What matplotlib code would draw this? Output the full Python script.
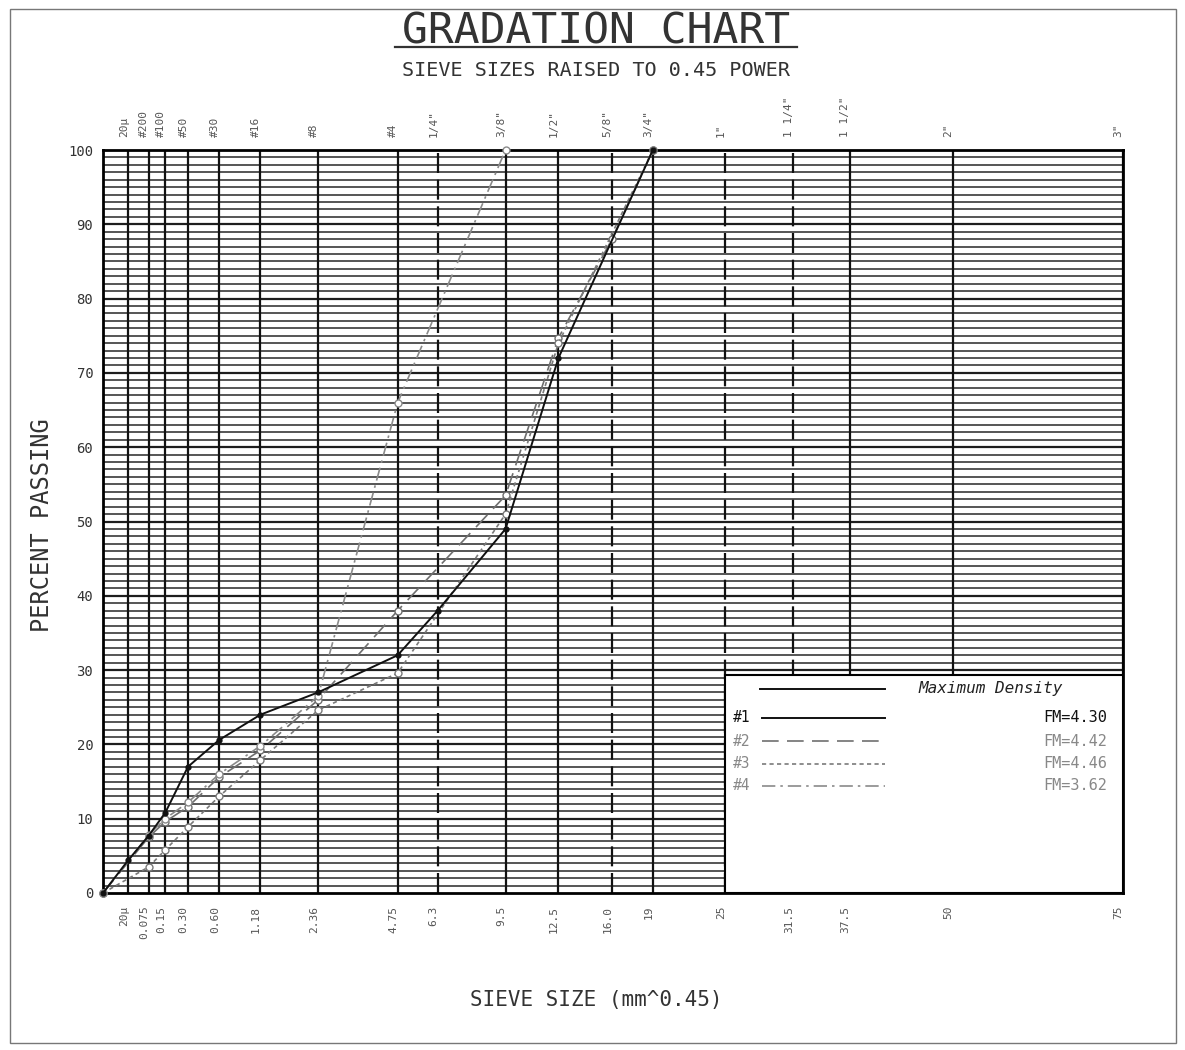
import numpy as np
import matplotlib.pyplot as plt
from matplotlib.lines import Line2D
from matplotlib.patches import Rectangle

plt.rcParams["font.family"] = ["DejaVu Sans Mono", "DejaVu Sans"]

POWER = 0.45
W, H = 1185, 1050

# ---------------------------------------------------------------------------
# sieve grid (openings in mm) and their labels
# ---------------------------------------------------------------------------
sieve_mm = [0.02, 0.075, 0.15, 0.30, 0.60, 1.18, 2.36, 4.75, 6.3, 9.5,
            12.5, 16.0, 19, 25, 31.5, 37.5, 50, 75]
bottom_labels = ["20\u00b5", "0.075", "0.15", "0.30", "0.60", "1.18", "2.36",
                 "4.75", "6.3", "9.5", "12.5", "16.0", "19", "25", "31.5",
                 "37.5", "50", "75"]
top_labels = ["20\u00b5", "#200", "#100", "#50", "#30", "#16", "#8", "#4",
              '1/4"', '3/8"', '1/2"', '5/8"', '3/4"', '1"', '1 1/4"',
              '1 1/2"', '2"', '3"']
dashed_sieves = [6.3, 16.0, 25, 31.5]

# ---------------------------------------------------------------------------
# gradations (percent passing)
# ---------------------------------------------------------------------------
size_1 = [0, 0.02, 0.075, 0.15, 0.30, 0.60, 1.18, 2.36, 4.75, 6.3, 9.5, 12.5, 19]
pass_1 = [0, 4.4, 7.7, 10.8, 17.0, 20.6, 24.0, 27.0, 32.0, 38.0, 49.0, 72.0, 100]

size_2 = [0, 0.075, 0.15, 0.30, 0.60, 1.18, 2.36, 4.75, 9.5, 12.5, 16.0, 19]
pass_2 = [0, 7.5, 9.6, 11.6, 15.6, 19.2, 26.0, 38.0, 53.5, 74.7, 88.0, 100]

size_3 = [0, 0.075, 0.15, 0.30, 0.60, 1.18, 2.36, 4.75, 9.5, 12.5, 19]
pass_3 = [0, 3.5, 5.8, 8.9, 13.0, 17.9, 24.6, 29.6, 51.0, 74.0, 100]

size_4 = [0, 0.075, 0.15, 0.30, 0.60, 1.18, 2.36, 4.75, 9.5]
pass_4 = [0, 7.8, 10.0, 12.2, 16.0, 19.8, 26.5, 66.0, 100]

legend_ids = ["#1", "#2", "#3", "#4"]
legend_fm = ["FM=4.30", "FM=4.42", "FM=4.46", "FM=3.62"]


def tx(mm):
    return np.asarray(mm, dtype=float) ** POWER


def px(x, y):
    """pixel position -> figure fraction"""
    return x / W, 1 - y / H


fig = plt.figure(figsize=(W / 100, H / 100), dpi=100)
ax = fig.add_axes([103 / W, 1 - 893 / H, 1020 / W, 743 / H])
ax.set_xlim(0, tx(75))
ax.set_ylim(0, 100)

# --- grid ---
for p in range(1, 100):
    ax.axhline(p, color="#1e1e1e" if p % 10 == 0 else "#555555",
               lw=1.6 if p % 10 == 0 else 1.4, zorder=1)
for mm in sieve_mm:
    ls = (0, (9, 3)) if mm in dashed_sieves else "-"
    ax.axvline(tx(mm), color="#111111", lw=1.6, ls=ls, zorder=1.5)

for s in ax.spines.values():
    s.set_linewidth(2)
ax.set_xticks([])
ax.set_yticks(range(0, 101, 10))
ax.set_yticklabels([str(v) for v in range(0, 101, 10)], fontsize=10,
                   color="#333333")
ax.tick_params(axis="y", length=0, pad=7)

# sieve labels above and below
xt = ax.get_xaxis_transform()
for mm, lb in zip(sieve_mm, bottom_labels):
    ax.text(tx(mm) - 0.03, -0.017, lb, transform=xt, rotation=90,
            ha="center", va="top", fontsize=8, color="#555555")
for mm, lb in zip(sieve_mm, top_labels):
    ax.text(tx(mm) - 0.03, 1.018, lb, transform=xt, rotation=90,
            ha="center", va="bottom", fontsize=8, color="#555555")

# --- legend box (covers the grid) ---
ax.add_patch(Rectangle((tx(25), 0), tx(75) - tx(25), 29.3, facecolor="white",
                       edgecolor="black", lw=1.5, zorder=3))

# --- curves ---
styles = [
    dict(color="#111111", ls="-", lw=1.4),
    dict(color="#6f6f6f", ls=(0, (10, 5)), lw=1.2),
    dict(color="#7a7a7a", ls=(0, (2.5, 2)), lw=1.2),
    dict(color="#8a8a8a", ls=(0, (8, 3, 1.5, 3)), lw=1.2),
]
curves = [(size_1, pass_1), (size_2, pass_2), (size_3, pass_3), (size_4, pass_4)]
for i, ((s, p), st) in enumerate(zip(curves, styles)):
    if i == 0:
        ax.plot(tx(s), p, marker="o", ms=3.5, mfc="#111111", mec="#111111",
                zorder=6, clip_on=False, **st)
    else:
        ax.plot(tx(s), p, marker="o", ms=5, mfc="white", mec=st["color"],
                mew=1, zorder=5, clip_on=False, **st)

# legend content in pixel coordinates
fig.add_artist(Line2D(*zip(px(760, 689), px(885, 689)), color="#111111", lw=1.4))
fig.text(*px(918, 689), "Maximum Density", fontsize=11.5, style="italic",
         va="center", ha="left", color="#222222")
rows_y = [718, 741, 764, 786]
for i, (y, lid, fm, st) in enumerate(zip(rows_y, legend_ids, legend_fm, styles)):
    c = "#111111" if i == 0 else "#888888"
    fig.text(*px(733, y), lid, fontsize=10.5, va="center", ha="left", color=c)
    fig.add_artist(Line2D(*zip(px(762, y), px(885, y)), color=st["color"],
                          ls=st["ls"], lw=st["lw"]))
    fig.text(*px(1107, y), fm, fontsize=11, va="center", ha="right", color=c)

# --- titles ---
fig.text(*px(596, 31), "GRADATION CHART", fontsize=31, ha="center",
         va="center", color="#333333")
fig.add_artist(Line2D(*zip(px(395, 47), px(797, 47)), color="#333333", lw=1.6))
fig.text(*px(596, 70), "SIEVE SIZES RAISED TO 0.45 POWER", fontsize=14.5,
         ha="center", va="center", color="#333333")
fig.text(*px(42, 525), "PERCENT PASSING", fontsize=17, rotation=90,
         ha="center", va="center", color="#333333")
fig.text(*px(596, 1000), "SIEVE SIZE (mm^0.45)", fontsize=15,
         ha="center", va="center", color="#333333")

# outer frame
fig.add_artist(Rectangle(px(10, 1043), 1166 / W, 1034 / H, fill=False,
                         edgecolor="#777777", lw=1, transform=fig.transFigure))

fig.savefig("out.png", dpi=100, facecolor="white")
